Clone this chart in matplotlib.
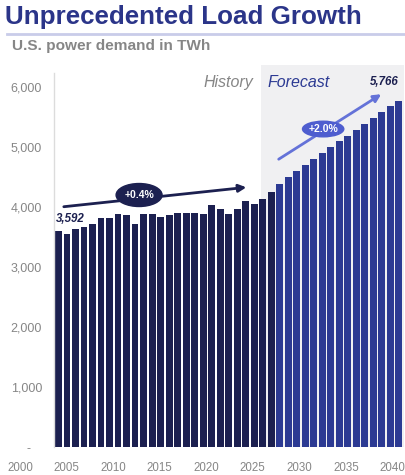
import numpy as np
import matplotlib
matplotlib.use('Agg')
import matplotlib.pyplot as plt
from matplotlib.patches import Ellipse

plt.rcParams['font.family'] = ['Liberation Sans', 'DejaVu Sans']

# U.S. power demand, TWh
years = list(range(2000, 2041))
demand = [3592, 3557, 3632, 3662, 3716, 3811, 3817, 3890, 3865, 3724,
          3887, 3883, 3832, 3870, 3905, 3905, 3905, 3883, 4028, 3972,
          3888, 3972, 4095, 4045, 4140, 4252,
          4378, 4495, 4600, 4705, 4805, 4905, 5000, 5095, 5188, 5283,
          5383, 5478, 5578, 5680, 5766]
last_history = 2025
forecast_start = 2023.8

yticks = [0, 1000, 2000, 3000, 4000, 5000, 6000]
ytick_labels = ['-   ', '1,000', '2,000', '3,000', '4,000', '5,000', '6,000']
year_labels = [2000, 2005, 2010, 2015, 2020, 2025, 2030, 2035, 2040]

hist_growth = '+0.4%'
fcst_growth = '+2.0%'

navy = '#1c2050'
blue = '#2c3a93'
light_blue = '#6472d8'
pill_blue = '#4e5dcf'
grey = '#868686'

fig = plt.figure(figsize=(4.06, 4.75), dpi=100)

# title block
fig.text(5/406, 1 - 24/475, 'Unprecedented Load Growth', fontsize=18.7, fontweight='bold',
         color='#2b3589', va='baseline', ha='left')
fig.add_artist(plt.Line2D([7/406, 1], [1 - 33.5/475, 1 - 33.5/475], color='#c9cce9', lw=2))
fig.text(12/406, 1 - 50/475, 'U.S. power demand in TWh', fontsize=11.1, fontweight='bold',
         color=grey, va='baseline', ha='left')

ax = fig.add_axes([54.5/406, 28/475, (404 - 54.5)/406, (447 - 65)/475])
ax.set_xlim(1999.53, 2040.6)
ax.set_ylim(0, 6367)

ax.axvspan(forecast_start, 2040.6, color='#f0f0f2', lw=0, zorder=0)

cols = [navy if y <= last_history else blue for y in years]
ax.bar(years, demand, width=0.8, color=cols, zorder=2)

ax.set_yticks(yticks)
ax.set_yticklabels(ytick_labels)
ax.tick_params(axis='y', length=0, pad=9, labelsize=9, labelcolor=grey)
ax.set_xticks([])
for s in ['top', 'right', 'bottom']:
    ax.spines[s].set_visible(False)
ax.spines['left'].set_color('#dcdcdc')
ax.spines['left'].set_linewidth(1)
ax.spines['left'].set_bounds(0, 6230)

# first / last values
ax.text(years[0] - 0.3, demand[0] + 160, '{:,}'.format(demand[0]), fontsize=8.3,
        fontweight='bold', style='italic', color=navy, ha='left', va='baseline')
ax.text(years[-1] - 0.05, 6035, '{:,}'.format(demand[-1]), fontsize=8.3,
        fontweight='bold', style='italic', color=navy, ha='right', va='baseline')

ax.text(2022.9, 6005, 'History', fontsize=11.5, style='italic', color=grey,
        ha='right', va='baseline')
ax.text(2024.6, 6005, 'Forecast', fontsize=11.5, style='italic', color=blue,
        ha='left', va='baseline')

# trend arrows with growth pills
ax.annotate('', xy=(2022.4, 4333), xytext=(2000.3, 4000),
            arrowprops=dict(arrowstyle='-|>', color=navy, lw=2, mutation_scale=11), zorder=3)
ax.add_patch(Ellipse((2009.47, 4200), 5.4, 383, color=navy, zorder=4))
ax.text(2009.47, 4200, hist_growth, fontsize=7.5, fontweight='bold', color='white',
        ha='center', va='center', zorder=5)

ax.annotate('', xy=(2038.2, 5905), xytext=(2025.6, 4772),
            arrowprops=dict(arrowstyle='-|>', color=light_blue, lw=2, mutation_scale=11), zorder=3)
ax.add_patch(Ellipse((2031.1, 5300), 4.85, 260, color=pill_blue, zorder=4))
ax.text(2031.1, 5300, fcst_growth, fontsize=7.5, fontweight='bold', color='white',
        ha='center', va='center', zorder=5)

# year labels row
lab = fig.add_axes([20/406, 1 - 461/475, (392.5 - 20)/406, 0.001])
lab.set_xlim(2000, 2040)
lab.set_xticks(year_labels)
lab.set_xticklabels([str(y) for y in year_labels])
lab.tick_params(axis='x', length=0, pad=1, labelsize=8.3, labelcolor=grey)
lab.set_yticks([])
for s in lab.spines.values():
    s.set_visible(False)
lab.patch.set_alpha(0)

plt.savefig('out.png', dpi=100)
